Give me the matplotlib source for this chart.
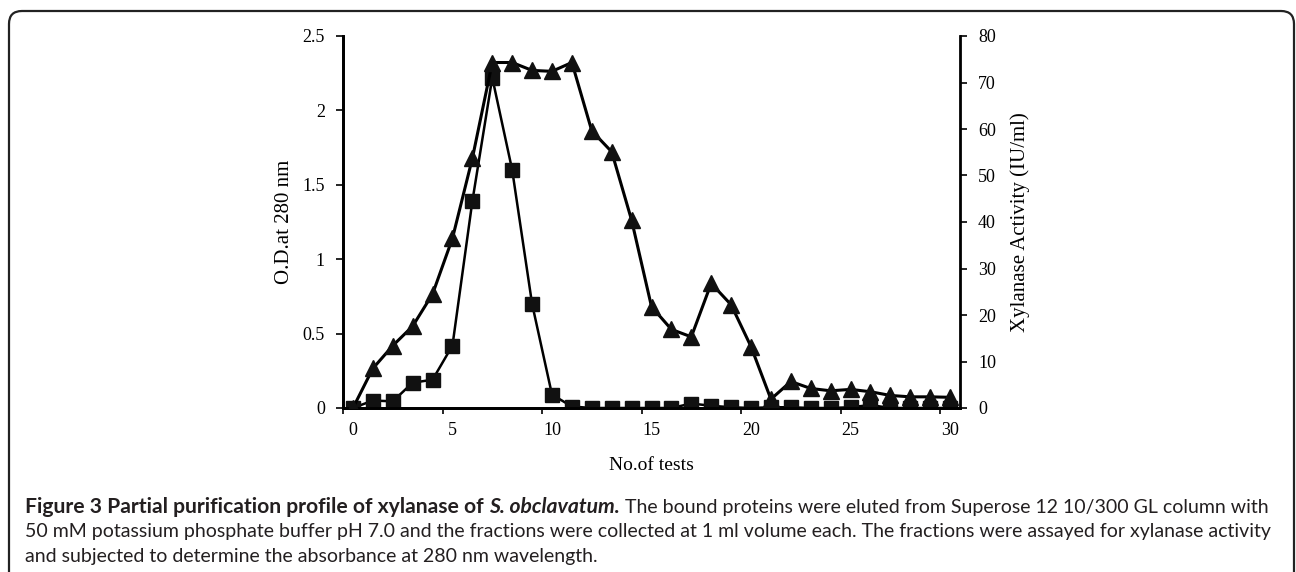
import numpy as np
import matplotlib
matplotlib.use("Agg")
import matplotlib.pyplot as plt
from matplotlib.patches import FancyBboxPatch

# fraction number (x axis)
fractions = list(range(31))

# O.D. at 280 nm (left axis, squares)
od_280 = [0.00, 0.05, 0.045, 0.17, 0.19, 0.42, 1.39, 2.22, 1.60, 0.70,
          0.09, 0.01, 0.00, 0.00, 0.00, 0.00, 0.00, 0.03, 0.015, 0.005,
          0.00, 0.005, 0.005, 0.00, 0.00, 0.005, 0.02, 0.00, 0.00, 0.00, 0.00]

# xylanase activity in IU/ml (right axis, triangles)
xylanase = [0.0, 8.5, 13.4, 17.6, 24.5, 36.5, 53.7, 74.3, 74.3, 72.6,
            72.4, 74.3, 59.6, 55.1, 40.4, 21.8, 16.9, 15.3, 26.8, 22.2,
            13.2, 1.9, 5.7, 4.2, 3.7, 4.0, 3.5, 2.7, 2.4, 2.4, 2.3]

x_labels = [0, 5, 10, 15, 20, 25, 30]
od_ticks = [0, 0.5, 1, 1.5, 2, 2.5]
od_tick_labels = ["0", "0.5", "1", "1.5", "2", "2.5"]
act_ticks = [0, 10, 20, 30, 40, 50, 60, 70, 80]

serif = "Liberation Serif"
cap_font = "Lato"

fig = plt.figure(figsize=(12.96, 5.72), dpi=100)
W, H = 1296, 572

# rounded frame around the figure panel (bottom runs off the page)
frame = FancyBboxPatch((9 / W, -0.2), (1294 - 9) / W, (572 - 11) / H + 0.2,
                       boxstyle="round,pad=0,rounding_size=0.01",
                       transform=fig.transFigure, fill=False,
                       edgecolor="#222222", linewidth=1.6, mutation_aspect=W / H)
fig.patches.append(frame)

ax = fig.add_axes([343 / W, 1 - 408 / H, (960 - 343) / W, (408 - 36) / H])
ax2 = ax.twinx()

ax.plot(fractions, od_280, color="black", linewidth=1.8, marker="s",
        markersize=10.5, markerfacecolor="#111111", markeredgecolor="#111111", zorder=3)
ax2.plot(fractions, xylanase, color="black", linewidth=2.2, marker="^",
         markersize=11, markerfacecolor="#111111", markeredgecolor="#111111", zorder=3)

ax.set_xlim(-0.5, 30.5)
ax.set_ylim(0, 2.5)
ax2.set_ylim(0, 80)

# category-style axis: tick marks between categories, labels on categories
ax.set_xticks(np.arange(-0.5, 30.5, 5))
ax.set_xticklabels([])
ax.tick_params(axis="x", which="major", direction="out", length=4, width=1.2)
ax.set_xticks(x_labels, minor=True)
ax.set_xticklabels([str(v) for v in x_labels], minor=True, fontsize=13, family=serif)
ax.tick_params(axis="x", which="minor", length=0, pad=10)

ax.set_yticks(od_ticks)
ax.set_yticklabels(od_tick_labels, fontsize=13, family=serif)
ax.tick_params(axis="y", direction="out", length=5, width=1.2, pad=8)

ax2.set_yticks(act_ticks)
ax2.set_yticklabels([str(v) for v in act_ticks], fontsize=13, family=serif)
ax2.tick_params(axis="y", direction="out", length=5, width=1.2, pad=8)

for a in (ax, ax2):
    a.spines["top"].set_visible(False)
    for s in ("left", "right", "bottom"):
        a.spines[s].set_linewidth(2.0)
ax.spines["right"].set_visible(False)

ax.set_ylabel("O.D.at 280 nm", fontsize=15, family=serif, labelpad=6)
ax2.set_ylabel("Xylanase Activity (IU/ml)", fontsize=15, family=serif, labelpad=10)
fig.text(651 / W, 1 - 465 / H, "No.of tests", fontsize=14, family=serif,
         ha="center", va="center")

# caption with mixed styles, laid out run by run
renderer = fig.canvas.get_renderer()


def put_runs(runs, x0, y0):
    x = x0
    for txt, weight, style, size in runs:
        t = fig.text(x / W, 1 - y0 / H, txt, fontsize=size, family=cap_font,
                     weight=weight, style=style, color="#231f20", va="baseline")
        bb = t.get_window_extent(renderer=renderer)
        x += bb.width


put_runs([("Figure 3 Partial purification profile of xylanase of ", "bold", "normal", 15.2),
          ("S. obclavatum.", "bold", "italic", 15.2),
          (" The bound proteins were eluted from Superose 12 10/300 GL column with", "normal", "normal", 14)],
         25, 513)
put_runs([("50 mM potassium phosphate buffer pH 7.0 and the fractions were collected at 1 ml volume each. "
           "The fractions were assayed for xylanase activity", "normal", "normal", 14)], 25, 537)
put_runs([("and subjected to determine the absorbance at 280 nm wavelength.", "normal", "normal", 14)], 25, 562)

fig.savefig("out.png", dpi=100)
